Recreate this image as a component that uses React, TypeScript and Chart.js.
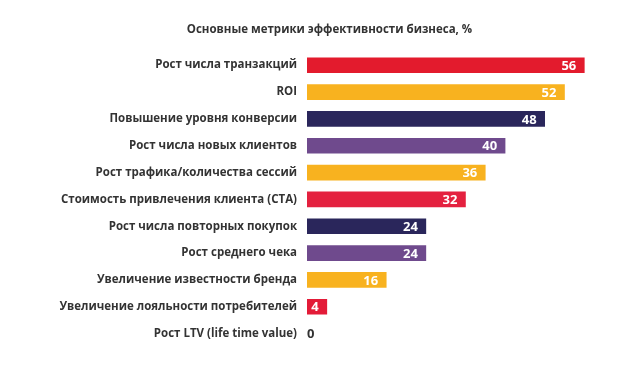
import React, { useEffect, useRef } from "react";
import { Chart, registerables } from "chart.js";

Chart.register(...registerables);

const titleText = "Основные метрики эффективности бизнеса, %";
const categories = [
  "Рост числа транзакций",
  "ROI",
  "Повышение уровня конверсии",
  "Рост числа новых клиентов",
  "Рост трафика/количества сессий",
  "Стоимость привлечения клиента (CTA)",
  "Рост числа повторных покупок",
  "Рост среднего чека",
  "Увеличение известности бренда",
  "Увеличение лояльности потребителей",
  "Рост LTV (life time value)",
];
const values = [56, 52, 48, 40, 36, 32, 24, 24, 16, 4, 0];
const barColors = [
  "#E31B2D",
  "#F8B21F",
  "#2A265B",
  "#6F4A8D",
  "#F8B21F",
  "#E4213F",
  "#2A265B",
  "#6F4A8D",
  "#F8B21F",
  "#E31B38",
  "rgba(0,0,0,0)",
];

const valueLabels = {
  id: "valueLabels",
  afterDatasetsDraw(chart: any) {
    const ctx = chart.ctx;
    const meta = chart.getDatasetMeta(0);
    ctx.save();
    ctx.font = "bold 13px 'Open Sans'";
    ctx.textBaseline = "middle";
    meta.data.forEach((bar: any, i: number) => {
      const v = values[i];
      if (v === 0) {
        ctx.fillStyle = "#333333";
        ctx.textAlign = "left";
        ctx.fillText(String(v), bar.base, bar.y + 1);
      } else {
        ctx.fillStyle = "#ffffff";
        ctx.textAlign = "right";
        ctx.fillText(String(v), bar.x - 8, bar.y + 1);
      }
    });
    ctx.restore();
  },
};

export default function App() {
  const ref = useRef<HTMLCanvasElement>(null);
  useEffect(() => {
    const chart = new Chart(ref.current as HTMLCanvasElement, {
      type: "bar",
      data: {
        labels: categories,
        datasets: [
          {
            data: values,
            backgroundColor: barColors,
            borderWidth: 0,
            barThickness: 15,
          },
        ],
      },
      options: {
        indexAxis: "y",
        animation: false,
        responsive: false,
        maintainAspectRatio: false,
        layout: { padding: { left: 37, right: 0, top: 0, bottom: 20 } },
        plugins: {
          legend: { display: false },
          tooltip: { enabled: false },
          title: {
            display: true,
            text: titleText,
            color: "#333333",
            font: { family: "'Open Sans'", size: 11.5, weight: "bold" },
            padding: { top: 15, bottom: 15 },
          },
        },
        scales: {
          x: {
            display: false,
            min: 0,
            max: 62,
          },
          y: {
            grid: { display: false, drawTicks: false },
            border: { display: false },
            ticks: {
              color: "#333333",
              padding: 10,
              font: { family: "'Open Sans'", size: 11.5, weight: "bold" },
            },
            afterFit(scale: any) {
              scale.width = 262;
            },
          },
        },
      },
      plugins: [valueLabels],
    });
    return () => chart.destroy();
  }, []);
  return <canvas ref={ref} width={606} height={359} style={{ display: "block" }} />;
}
